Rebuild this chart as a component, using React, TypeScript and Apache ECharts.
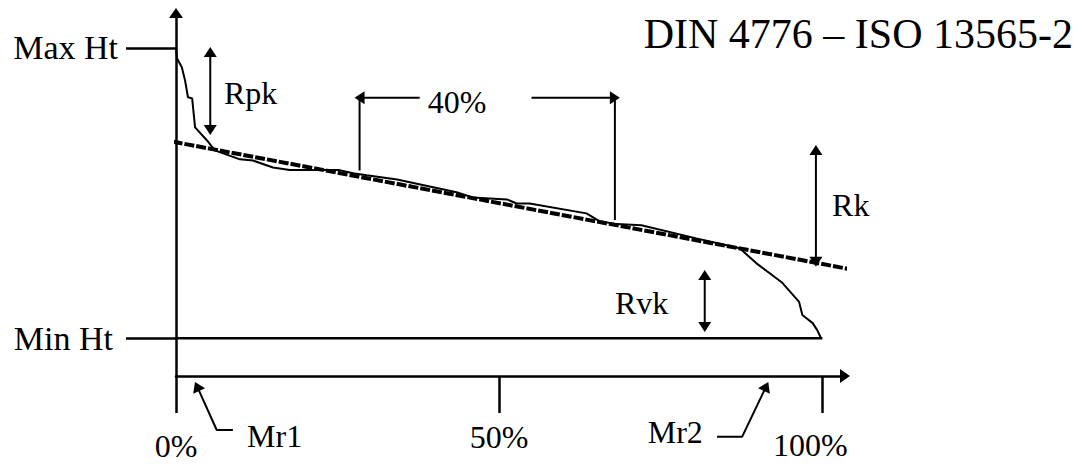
import { useEffect, useRef } from 'react';
import * as echarts from 'echarts';

// Bearing (material ratio) curve: % of profile vs height (Min Ht = 0, Max Ht = 100)
const bearingPct = [0, 0.15, 0.9, 1.4, 1.85, 2.5, 2.95, 4.8, 6.0, 9.9, 11.9, 15.0, 17.6, 25.3, 27.4, 29.5, 34.2, 43.4, 45.9, 51.2, 52.7, 54.7, 63.5, 65.5, 68.2, 72.0, 80.5, 87.2, 89.8, 93.7, 96.4, 96.9, 98.5, 99.2, 99.8];
const profileHt = [100, 96.4, 93.3, 88.8, 83.0, 82.6, 72.6, 68.1, 64.7, 61.6, 61.2, 58.8, 57.9, 57.9, 56.8, 56.1, 54.7, 50.3, 48.5, 47.8, 46.4, 46.4, 43.0, 40.3, 39.3, 38.9, 34.4, 31.0, 25.8, 19.3, 12.5, 8.0, 5.2, 2.8, 0];

// Core (regression) line endpoints
const corePct = [-6.0, 106.6];
const coreHt = [70.0, 22.8];

// Baseline (Min Ht)
const basePct = [0, 100];
const baseHt = [0, 0];

// Axis ticks & labels
const pctTicks = [0, 50, 100];
const pctLabels = ['0%', '50%', '100%'];
const htTicks = [0, 100];
const htLabels = ['Min Ht', 'Max Ht'];
const titleText = 'DIN 4776 – ISO 13565-2';

// Annotations (data coordinates)
const annotationNames = ['Rpk', '40%', 'Rk', 'Rvk', 'Mr1', 'Mr2'];
const annotationPct = [7.42, 43.5, 101.5, 67.9, 11.0, 81.5];
const annotationHt = [84.4, 81.2, 45.9, 12.3, -33.7, -32.3];
const annotationAlign = ['left', 'center', 'left', 'left', 'left', 'right'];

// Arrow polylines: points, and which points carry an arrow head (with rotation in degrees)
const arrows: { pts: number[][]; heads: { [i: number]: number } }[] = [
  { pts: [[5.3, 98.6], [5.3, 71.7]], heads: { 0: 0, 1: 180 } }, // Rpk
  { pts: [[99.0, 64.8], [99.0, 26.3]], heads: { 0: 0, 1: 180 } }, // Rk
  { pts: [[81.8, 21.8], [81.8, 3.9]], heads: { 0: 0, 1: 180 } }, // Rvk
  { pts: [[37.7, 82.8], [28.4, 82.8], [28.4, 57.8]], heads: { 1: 90 } }, // 40% left
  { pts: [[55.0, 82.8], [67.9, 82.8], [67.9, 40.7]], heads: { 1: -90 } }, // 40% right
  { pts: [[3.26, -16.6], [6.3, -31.6], [8.8, -31.6]], heads: { 0: 24.6 } }, // Mr1
  { pts: [[91.3, -16.6], [87.6, -33.9], [83.7, -33.9]], heads: { 0: -25.3 } }, // Mr2
];

const FONT = '"Liberation Serif", "Times New Roman", serif';
const BLACK = '#000';

export default function App() {
  const ref = useRef<HTMLDivElement>(null);
  useEffect(() => {
    if (!ref.current) return;
    const chart = echarts.init(ref.current, undefined, { renderer: 'svg' });

    const curveData = bearingPct.map((p, i) => [p, profileHt[i]]);
    const coreData = corePct.map((p, i) => [p, coreHt[i]]);
    const baseData = basePct.map((p, i) => [p, baseHt[i]]);

    const arrowSeries = arrows.map((a, k) => ({
      type: 'line',
      name: 'arrow' + k,
      clip: false,
      silent: true,
      symbol: 'none',
      showSymbol: true,
      data: a.pts.map((pt, i) =>
        a.heads[i] !== undefined
          ? { value: pt, symbol: 'triangle', symbolSize: [13, 10], symbolRotate: a.heads[i], itemStyle: { color: BLACK } }
          : { value: pt, symbol: 'none' }
      ),
      lineStyle: { color: BLACK, width: 2 },
      itemStyle: { color: BLACK, opacity: 1 },
      emphasis: { disabled: true },
      z: 4,
    }));

    const labelData = annotationNames.map((n, i) => ({
      name: n,
      value: [annotationPct[i], annotationHt[i]],
      label: { align: annotationAlign[i] },
    }));

    const tok = { fontFamily: FONT, fontSize: 32, color: BLACK };

    chart.setOption({
      animation: false,
      backgroundColor: '#fff',
      title: {
        text: titleText,
        right: 6,
        top: 8,
        textStyle: { fontFamily: FONT, fontSize: 42, fontWeight: 'normal', color: BLACK },
      },
      grid: { left: 176, right: 239, top: 13, bottom: 88, containLabel: false, outerBoundsMode: 'none' },
      xAxis: {
        type: 'value',
        min: 0,
        max: 103.5,
        axisLine: {
          show: true,
          onZero: false,
          symbol: ['none', 'triangle'],
          symbolSize: [14, 10],
          lineStyle: { color: BLACK, width: 2.5 },
        },
        axisTick: { show: true, customValues: pctTicks, length: 37, lineStyle: { color: BLACK, width: 2.5 } },
        axisLabel: {
          customValues: pctTicks,
          margin: 45,
          formatter: (v: number) => `{p${v}|${pctLabels[pctTicks.indexOf(v)]}}`,
          fontFamily: FONT,
          fontSize: 32,
          color: BLACK,
          rich: {
            p0: { ...tok, lineHeight: 50 },
            p50: { ...tok, lineHeight: 32 },
            p100: { ...tok, lineHeight: 48, padding: [0, 24, 0, 0] },
          },
        },
        splitLine: { show: false },
      },
      yAxis: {
        type: 'value',
        min: -13,
        max: 112,
        axisLine: {
          show: true,
          symbol: ['none', 'triangle'],
          symbolSize: [14, 10],
          lineStyle: { color: BLACK, width: 2.5 },
        },
        axisTick: { show: true, customValues: htTicks, length: 50, lineStyle: { color: BLACK, width: 2.5 } },
        axisLabel: {
          customValues: htTicks,
          margin: 58,
          formatter: (v: number) => (v === 0 ? `{m|${htLabels[0]}}` : htLabels[1]),
          fontFamily: FONT,
          fontSize: 34,
          color: BLACK,
          rich: { m: { fontFamily: FONT, fontSize: 34, color: BLACK, padding: [0, 5, 0, 0] } },
        },
        splitLine: { show: false },
      },
      series: [
        {
          type: 'line',
          name: 'core',
          data: coreData,
          clip: false,
          silent: true,
          symbol: 'none',
          lineStyle: { color: BLACK, width: 4, type: [10, 2] },
          z: 2,
        },
        {
          type: 'line',
          name: 'base',
          data: baseData,
          clip: false,
          silent: true,
          symbol: 'none',
          lineStyle: { color: BLACK, width: 2.5 },
          z: 3,
        },
        {
          type: 'line',
          name: 'bearing',
          data: curveData,
          clip: false,
          silent: true,
          symbol: 'none',
          lineStyle: { color: BLACK, width: 2 },
          z: 3,
        },
        ...arrowSeries,
        {
          type: 'scatter',
          name: 'labels',
          clip: false,
          silent: true,
          symbolSize: 0,
          itemStyle: { opacity: 1, color: BLACK },
          data: labelData,
          label: {
            show: true,
            position: 'inside',
            formatter: '{b}',
            verticalAlign: 'middle',
            fontFamily: FONT,
            fontSize: 32,
            color: BLACK,
            opacity: 1,
            textBorderWidth: 0,
          },
          z: 5,
        },
      ],
    });
    return () => chart.dispose();
  }, []);
  return <div ref={ref} style={{ position: 'absolute', left: 0, top: 0, width: 1084, height: 464 }} />;
}
